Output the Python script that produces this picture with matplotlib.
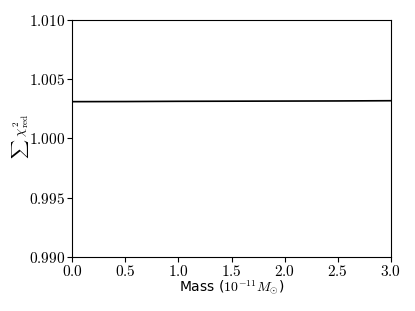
import matplotlib
matplotlib.use("Agg")
import matplotlib.pyplot as plt
from matplotlib.ticker import FuncFormatter

plt.rcParams["mathtext.fontset"] = "cm"

# data
mass = [0.0, 0.5, 1.0, 1.5, 2.0, 2.5, 3.0]
chi2_sum = [1.00310, 1.00311, 1.00313, 1.00314, 1.00315, 1.00316, 1.00318]

fig, ax = plt.subplots(figsize=(4.15, 3.11), dpi=100)
fig.subplots_adjust(left=0.174, right=0.942, top=0.936, bottom=0.174)

ax.plot(mass, chi2_sum, color="black", lw=1.2)
ax.set_xlim(0, 3)
ax.set_ylim(0.99, 1.01)
ax.set_xticks([0, 0.5, 1.0, 1.5, 2.0, 2.5, 3.0])
ax.set_yticks([0.990, 0.995, 1.000, 1.005, 1.010])
ax.xaxis.set_major_formatter(FuncFormatter(lambda v, p: "$%.1f$" % v))
ax.yaxis.set_major_formatter(FuncFormatter(lambda v, p: "$%.3f$" % v))
ax.tick_params(labelsize=11, pad=1.5)

ax.set_xlabel(r"Mass ($10^{-11}M_{\odot}$)", fontsize=10, labelpad=0)
ax.set_ylabel(r"$\sum\ \chi^2_{\rm red}$", fontsize=9.5)
ax.yaxis.set_label_coords(-0.13, 0.51)

fig.savefig("out.png", dpi=100)
